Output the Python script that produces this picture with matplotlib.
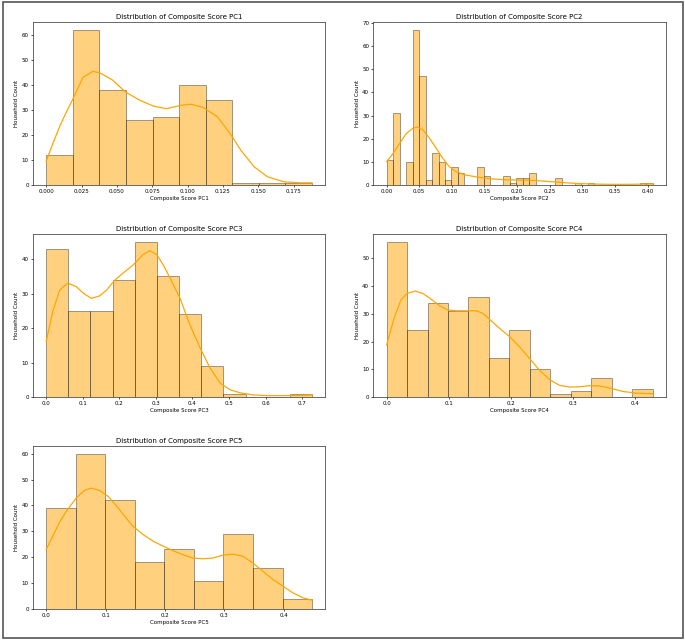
import numpy as np
import matplotlib
matplotlib.use('Agg')
import matplotlib.pyplot as plt
from matplotlib.patches import Rectangle

# Histogram counts (242 households each)
pc1_counts = [12, 62, 38, 26, 27, 40, 34, 1, 1, 1]
pc1_max = 0.188
pc2_counts = [11, 31, 0, 10, 67, 47, 2, 14, 10, 2, 8, 5, 0, 0, 8, 4, 0, 0, 4, 1,
              3, 3, 5, 0, 0, 0, 3, 0, 0, 1, 0, 1, 0, 0, 0, 0, 0, 0, 0, 1, 1]
pc2_max = 0.4077
pc3_counts = [43, 25, 25, 34, 45, 35, 24, 9, 1, 0, 0, 1]
pc3_max = 0.727
pc4_counts = [56, 24, 34, 31, 36, 14, 24, 10, 1, 2, 7, 0, 3]
pc4_max = 0.4286
pc5_counts = [39, 60, 42, 18, 23, 11, 29, 16, 4]
pc5_max = 0.448

# KDE curves (in count units)
pc1_kde_x = [0.0, 0.005, 0.01, 0.015, 0.0185, 0.026, 0.033, 0.038, 0.047, 0.056, 0.066,
             0.076, 0.085, 0.095, 0.102, 0.111, 0.121, 0.130, 0.1375, 0.147, 0.1565,
             0.168, 0.18, 0.188]
pc1_kde_y = [9.6, 17, 24, 30, 33.9, 43, 45.4, 44.8, 41.9, 37.2, 33.9, 31.5, 30.5, 31.8,
             32.3, 31, 27.3, 20.6, 14, 7.3, 3.3, 1.3, 0.9, 0.9]
pc2_kde_x = [0.0, 0.01, 0.02, 0.03, 0.04, 0.047, 0.055, 0.065, 0.075, 0.085, 0.095, 0.105,
             0.12, 0.14, 0.16, 0.18, 0.20, 0.22, 0.24, 0.26, 0.28, 0.30, 0.33, 0.36, 0.38,
             0.4077]
pc2_kde_y = [10.1, 13.7, 18, 22.2, 24.5, 25, 24, 20.5, 16.3, 12, 8.3, 6, 4.4, 3.4, 2.7,
             2.3, 2.2, 2.1, 1.7, 1.3, 0.9, 0.6, 0.35, 0.3, 0.35, 0.5]
pc3_kde_x = [0.0, 0.018, 0.037, 0.059, 0.082, 0.105, 0.124, 0.146, 0.165, 0.188, 0.21,
             0.238, 0.265, 0.284, 0.302, 0.32, 0.339, 0.366, 0.393, 0.421, 0.448, 0.476,
             0.503, 0.531, 0.567, 0.604, 0.65, 0.695, 0.727]
pc3_kde_y = [16.1, 24.8, 31, 33, 32, 29.8, 28.6, 29.3, 31, 33.9, 35.9, 38.3, 41.3, 42.4,
             41.3, 38.3, 34.4, 28.6, 20.9, 14.2, 8.4, 4.0, 2.1, 1.2, 0.6, 0.4, 0.4, 0.5, 0.6]
pc4_kde_x = [0.0, 0.012, 0.023, 0.033, 0.046, 0.058, 0.071, 0.085, 0.098, 0.112, 0.128,
             0.144, 0.155, 0.165, 0.182, 0.198, 0.214, 0.23, 0.246, 0.263, 0.279, 0.295,
             0.311, 0.327, 0.343, 0.36, 0.381, 0.403, 0.4286]
pc4_kde_y = [18.8, 28.4, 35, 37.4, 38.2, 37.4, 35.4, 33, 31.4, 31.1, 31.1, 31.1, 30.2,
             28.2, 24.8, 21.8, 18.2, 14, 9.8, 6.2, 4.2, 3.6, 3.7, 4.1, 4.0, 3.2, 2.0, 1.4, 1.2]
pc5_kde_x = [0.0, 0.011, 0.022, 0.034, 0.051, 0.065, 0.076, 0.09, 0.104, 0.118, 0.132,
             0.146, 0.163, 0.18, 0.197, 0.213, 0.23, 0.247, 0.264, 0.281, 0.298, 0.315,
             0.331, 0.348, 0.365, 0.382, 0.399, 0.416, 0.433, 0.448]
pc5_kde_y = [23, 28.1, 33.3, 37.8, 43, 45.9, 46.7, 45.8, 43.6, 40, 35.9, 32, 28.8, 26.2,
             24.3, 22.6, 21, 19.7, 19.4, 19.7, 20.8, 21.2, 20.4, 17.8, 14.6, 11.4, 8.8,
             6.2, 4.3, 3.4]

names = ['PC1', 'PC2', 'PC3', 'PC4', 'PC5']
counts = [pc1_counts, pc2_counts, pc3_counts, pc4_counts, pc5_counts]
maxes = [pc1_max, pc2_max, pc3_max, pc4_max, pc5_max]
kde_x = [pc1_kde_x, pc2_kde_x, pc3_kde_x, pc4_kde_x, pc5_kde_x]
kde_y = [pc1_kde_y, pc2_kde_y, pc3_kde_y, pc4_kde_y, pc5_kde_y]

dpi = 40
fig, axes = plt.subplots(nrows=3, ncols=2, figsize=(685 / dpi, 642 / dpi))
fig.subplots_adjust(left=0.048, right=0.972, top=0.9657, bottom=0.0514,
                    wspace=0.164, hspace=0.30)
ax = axes.ravel()

for i in range(5):
    c = np.array(counts[i])
    edges = np.linspace(0, maxes[i], len(c) + 1)
    w = edges[1] - edges[0]
    ax[i].bar(edges[:-1], c, width=w, align='edge', color='orange', alpha=0.5,
              edgecolor='black', linewidth=1.3)
    ax[i].plot(kde_x[i], kde_y[i], color='orange', linewidth=2.2)
    ax[i].set_title('Distribution of Composite Score ' + names[i], fontsize=12.5)
    ax[i].set_xlabel('Composite Score ' + names[i], fontsize=10)
    ax[i].set_ylabel('Household Count', fontsize=10)
    ax[i].tick_params(labelsize=10, width=1.2, length=4)
    for s in ax[i].spines.values():
        s.set_linewidth(1.3)
        s.set_color('#333333')

ax[5].axis('off')

# thin frame round the whole picture
fig.add_artist(Rectangle((3 / 685, 1 - 638 / 642), 680 / 685, 636 / 642,
                         transform=fig.transFigure, fill=False,
                         edgecolor='#555555', linewidth=3))

fig.savefig('out.png', dpi=dpi)
